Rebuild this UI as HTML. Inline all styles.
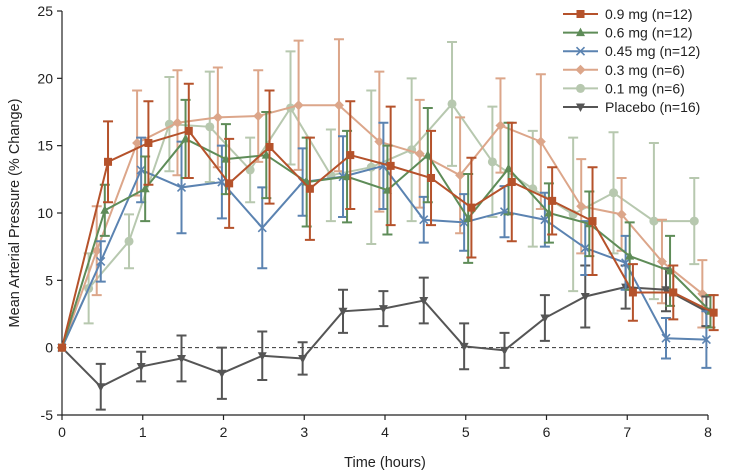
<!DOCTYPE html>
<html><head><meta charset="utf-8">
<style>
html,body{margin:0;padding:0;background:#fff;}
svg{display:block;font-family:"Liberation Sans",sans-serif;}
</style></head>
<body>
<svg id="chart" width="749" height="474" viewBox="0 0 749 474"></svg>
<script>
const times=[0,0.5,1,1.5,2,2.5,3,3.5,4,4.5,5,5.5,6,6.5,7,7.5,8];
const xTicks=[0,1,2,3,4,5,6,7,8];
const yTicks=[-5,0,5,10,15,20,25];
const seriesNames=["0.9 mg (n=12)","0.6 mg (n=12)","0.45 mg (n=12)","0.3 mg (n=6)","0.1 mg (n=6)","Placebo (n=16)"];
const v09=[0,13.8,15.2,16.1,12.2,14.9,11.8,14.3,13.5,12.6,10.4,12.3,10.9,9.4,4.1,4.1,2.6];
const e09=[0,3.0,3.1,3.5,3.3,4.2,3.8,4.0,4.4,3.5,3.7,4.4,2.5,4.0,2.1,2.0,1.3];
const v06=[0,10.2,11.8,15.5,14.0,14.3,12.3,12.7,11.7,14.3,9.6,13.3,10.0,9.2,6.8,5.7,2.7];
const e06=[0,1.9,2.4,2.9,2.6,3.2,3.3,3.4,3.3,3.5,3.3,3.4,2.2,2.4,2.5,2.6,1.2];
const v045=[0,6.4,13.2,11.9,12.3,8.9,12.3,12.7,13.5,9.5,9.3,10.1,9.5,7.4,6.3,0.7,0.6];
const e045=[0,1.5,2.4,3.4,2.7,3.0,2.5,3.0,3.2,1.7,2.1,1.9,2.0,2.0,2.0,1.5,2.1];
const v03=[0,7.2,15.2,16.7,17.1,17.2,18.0,18.0,15.3,14.4,12.8,16.5,15.3,10.5,9.9,6.4,4.0];
const e03=[0,3.3,3.9,3.9,3.7,3.4,4.8,4.9,5.2,4.0,4.3,3.5,5.0,3.5,2.7,3.1,2.5];
const v01=[0,4.4,7.9,16.6,16.4,13.2,17.8,12.8,13.4,14.7,18.1,13.8,11.8,9.9,11.5,9.4,9.4];
const e01=[0,2.6,2.0,3.5,4.1,2.4,4.2,3.4,5.7,5.3,4.6,4.1,4.3,5.7,4.5,5.8,3.2];
const vPl=[0,-2.9,-1.4,-0.8,-1.9,-0.6,-0.8,2.7,2.9,3.5,0.1,-0.2,2.2,3.8,4.5,4.3,2.7];
const ePl=[0,1.7,1.1,1.7,1.9,1.8,1.2,1.6,1.3,1.7,1.7,1.3,1.7,2.3,1.6,1.6,1.1];

const NS="http://www.w3.org/2000/svg";
const svg=document.getElementById('chart');
const X0=62,X1=708,Y0=415,Y1=11;
function xs(t){return X0+(t-0)/(8-0)*(X1-X0);}
function ys(v){return Y0-(v-(-5))/(25-(-5))*(Y0-Y1);}
function mk(tag,attrs,parent){const e=document.createElementNS(NS,tag);for(const k in attrs)e.setAttribute(k,attrs[k]);(parent||svg).appendChild(e);return e;}

// zero line
const zl=mk('line',{x1:X0,x2:X1,y1:ys(0),y2:ys(0),stroke:'#333','stroke-width':1,'stroke-dasharray':'4,3'});



// axes
const ax=mk('path',{d:`M${X0},${Y1} V${Y0} H${X1}`,fill:'none',stroke:'#222','stroke-width':1.2});


yTicks.forEach(v=>{
  const y=ys(v);
  mk('line',{x1:X0-5,x2:X0,y1:y,y2:y,stroke:'#222','stroke-width':1.2});
  const t=mk('text',{x:X0-9,y:y+5,'text-anchor':'end','font-size':14,fill:'#222'});
  t.textContent=v;
  
  
});
xTicks.forEach(v=>{
  const x=xs(v);
  mk('line',{x1:x,x2:x,y1:Y0,y2:Y0+5,stroke:'#222','stroke-width':1.2});
  const t=mk('text',{x:x,y:Y0+22,'text-anchor':'middle','font-size':14,fill:'#222'});
  t.textContent=v;
  
  
});
const xt=mk('text',{x:(X0+X1)/2,y:467,'text-anchor':'middle','font-size':14.5,fill:'#222'});
xt.textContent='Time (hours)';


const yt=mk('text',{x:0,y:0,'text-anchor':'middle','font-size':14.5,fill:'#222',transform:`translate(19,${(Y0+Y1)/2}) rotate(-90)`});
yt.textContent='Mean Arterial Pressure (% Change)';



const styles=[
 {vals:v09,errs:e09,color:'#b5522b',marker:'square',off:0.07,name:'series-0-9mg'},
 {vals:v06,errs:e06,color:'#5e8c58',marker:'triangle-up',off:0.03,name:'series-0-6mg'},
 {vals:v045,errs:e045,color:'#5b83b1',marker:'x',off:-0.02,name:'series-0-45mg'},
 {vals:v03,errs:e03,color:'#dca68a',marker:'diamond',off:-0.07,name:'series-0-3mg'},
 {vals:v01,errs:e01,color:'#b7c8af',marker:'circle',off:-0.17,name:'series-0-1mg'},
 {vals:vPl,errs:ePl,color:'#555555',marker:'triangle-down',off:-0.02,name:'series-placebo'}
];
function marker(g,type,x,y,c){
  if(type==='square')return mk('rect',{x:x-4,y:y-4,width:8,height:8,fill:c},g);
  if(type==='triangle-up')return mk('path',{d:`M${x},${y-5}L${x+4.5},${y+3.5}L${x-4.5},${y+3.5}Z`,fill:c},g);
  if(type==='triangle-down')return mk('path',{d:`M${x},${y+5}L${x+4.5},${y-3.5}L${x-4.5},${y-3.5}Z`,fill:c},g);
  if(type==='diamond')return mk('path',{d:`M${x},${y-5}L${x+5},${y}L${x},${y+5}L${x-5},${y}Z`,fill:c},g);
  if(type==='circle')return mk('circle',{cx:x,cy:y,r:4.5,fill:c},g);
  return mk('path',{d:`M${x-4},${y-4}L${x+4},${y+4}M${x+4},${y-4}L${x-4},${y+4}`,stroke:c,'stroke-width':1.6,fill:'none'},g);
}
// draw back-to-front (placebo & 0.1 first)
[4,3,5,2,1,0].forEach(i=>{
  const s=styles[i];
  const g=mk('g',{});
  
  
  const px=times.map((t,k)=>xs(k===0?t:t+s.off));
  const py=s.vals.map(v=>ys(v));
  s.vals.forEach((v,k)=>{
    if(k===0)return;
    const e=s.errs[k];
    const x=px[k],yt=ys(v+e),yb=ys(v-e);
    const eb=mk('path',{d:`M${x},${yt}V${yb}M${x-5},${yt}H${x+5}M${x-5},${yb}H${x+5}`,stroke:s.color,'stroke-width':2,fill:'none'},g);
    
    
  });
  const ln=mk('polyline',{points:px.map((x,k)=>x+','+py[k]).join(' '),fill:'none',stroke:s.color,'stroke-width':2},g);
  
  
  px.forEach((x,k)=>{
    const m=marker(g,s.marker,x,py[k],s.color);
    
    
  });
});
// legend
const lg=mk('g',{});


seriesNames.forEach((n,i)=>{
  const s=styles[i];
  const y=14+i*18.6;
  const eg=mk('g',{},lg);
  
  
  mk('line',{x1:563,x2:598,y1:y,y2:y,stroke:s.color,'stroke-width':2},eg);
  marker(eg,s.marker,580.5,y,s.color);
  const t=mk('text',{x:605,y:y+5,'font-size':14,fill:'#222'},eg);
  t.textContent=n;
});
</script>
</body></html>
